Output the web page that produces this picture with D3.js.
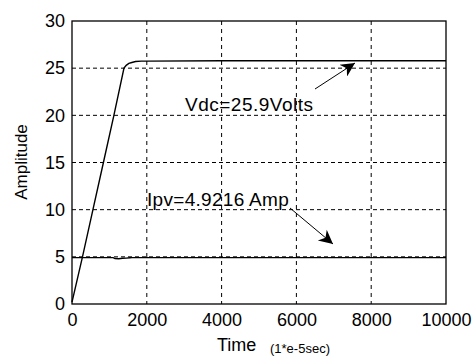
<!DOCTYPE html>
<html>
<head>
<meta charset="utf-8">
<script src="https://cdn.jsdelivr.net/npm/d3@7"></script>
<style>
  body { margin: 0; background: #fff; }
  text { font-family: "Liberation Sans", Arial, sans-serif; fill: #000; }
</style>
</head>
<body>
<div id="main"></div>
<script>
// values
let vdcTime = [0, 280, 560, 840, 1120, 1390, 1450, 1520, 1600, 1700, 1850, 2000, 4000, 6000, 8000, 10000];
let vdcValue = [0.2, 5, 10, 15, 20, 25, 25.3, 25.5, 25.6, 25.7, 25.75, 25.75, 25.78, 25.78, 25.78, 25.78];
let ipvTime = [0, 1100, 1150, 1250, 1350, 1450, 1550, 1600, 10000];
let ipvValue = [4.92, 4.92, 4.82, 4.8, 4.85, 4.86, 4.9, 4.92, 4.92];
let xTicks = [0, 2000, 4000, 6000, 8000, 10000];
let yTicks = [0, 5, 10, 15, 20, 25, 30];

let W = 472, H = 356;
let mLeft = 72, mRight = 446, mTop = 21, mBottom = 304;

let svg = d3.select("#main").append("svg")
    .attr("width", W)
    .attr("height", H);

var xScale = d3.scaleLinear().domain([0, 10000]).range([mLeft, mRight]);
var yScale = d3.scaleLinear().domain([0, 30]).range([mBottom, mTop]);

// grid
svg.append("g").selectAll("line").data(xTicks.slice(1, -1)).enter()
    .append("line")
    .attr("x1", d => xScale(d)).attr("x2", d => xScale(d))
    .attr("y1", mTop).attr("y2", mBottom)
    .attr("stroke", "#000").attr("stroke-dasharray", "4,4");
svg.append("g").selectAll("line").data(yTicks.slice(1, -1)).enter()
    .append("line")
    .attr("x1", mLeft).attr("x2", mRight)
    .attr("y1", d => yScale(d)).attr("y2", d => yScale(d))
    .attr("stroke", "#000").attr("stroke-dasharray", "4,3");

// axes
let xAxis = svg.append("g")
    .attr("transform", `translate(0,${mBottom})`)
    .call(d3.axisBottom(xScale).tickValues(xTicks).tickFormat(d3.format("d")).tickSize(0).tickPadding(9));
let yAxis = svg.append("g")
    .attr("transform", `translate(${mLeft},0)`)
    .call(d3.axisLeft(yScale).tickValues(yTicks).tickSize(0).tickPadding(7));
[xAxis, yAxis].forEach(a => {
    a.selectAll("text").style("font-size", "18px").attr("font-family", null);
    a.select(".domain").remove();
});

svg.append("rect")
    .attr("x", mLeft).attr("y", mTop)
    .attr("width", mRight - mLeft).attr("height", mBottom - mTop)
    .attr("fill", "none").attr("stroke", "#000").attr("stroke-width", 1.3);

// curves
let line = d3.line().x(d => xScale(d[0])).y(d => yScale(d[1]));
svg.append("path")
    .datum(vdcTime.map((t, i) => [t, vdcValue[i]]))
    .attr("d", line)
    .attr("fill", "none").attr("stroke", "#000").attr("stroke-width", 1.4);
svg.append("path")
    .datum(ipvTime.map((t, i) => [t, ipvValue[i]]))
    .attr("d", line)
    .attr("fill", "none").attr("stroke", "#000").attr("stroke-width", 1.4);

// annotations
svg.append("defs").append("marker")
    .attr("id", "arr")
    .attr("viewBox", "0 0 10 10")
    .attr("refX", 10).attr("refY", 5)
    .attr("markerWidth", 17).attr("markerHeight", 14)
    .attr("markerUnits", "userSpaceOnUse")
    .attr("orient", "auto")
    .append("path")
    .attr("d", "M0,0 L10,5 L0,10 L3,5 Z")
    .attr("fill", "#000");

svg.append("line")
    .attr("x1", 315).attr("y1", 89).attr("x2", 355).attr("y2", 63)
    .attr("stroke", "#000").attr("marker-end", "url(#arr)");
svg.append("line")
    .attr("x1", 290).attr("y1", 208).attr("x2", 333).attr("y2", 244)
    .attr("stroke", "#000").attr("marker-end", "url(#arr)");

svg.append("text").attr("x", 185).attr("y", 111)
    .style("font-size", "19px").style("letter-spacing", "0.5px").text("Vdc=25.9Volts");
svg.append("text").attr("x", 147).attr("y", 206)
    .style("font-size", "19px").style("letter-spacing", "0.3px").text("Ipv=4.9216 Amp");

svg.append("text")
    .attr("transform", "translate(27,162) rotate(-90)")
    .attr("text-anchor", "middle")
    .style("font-size", "17px").text("Amplitude");
svg.append("text").attr("x", 217).attr("y", 351)
    .style("font-size", "18px").text("Time");
svg.append("text").attr("x", 270).attr("y", 353)
    .style("font-size", "13px").text("(1*e-5sec)");
</script>
</body>
</html>
